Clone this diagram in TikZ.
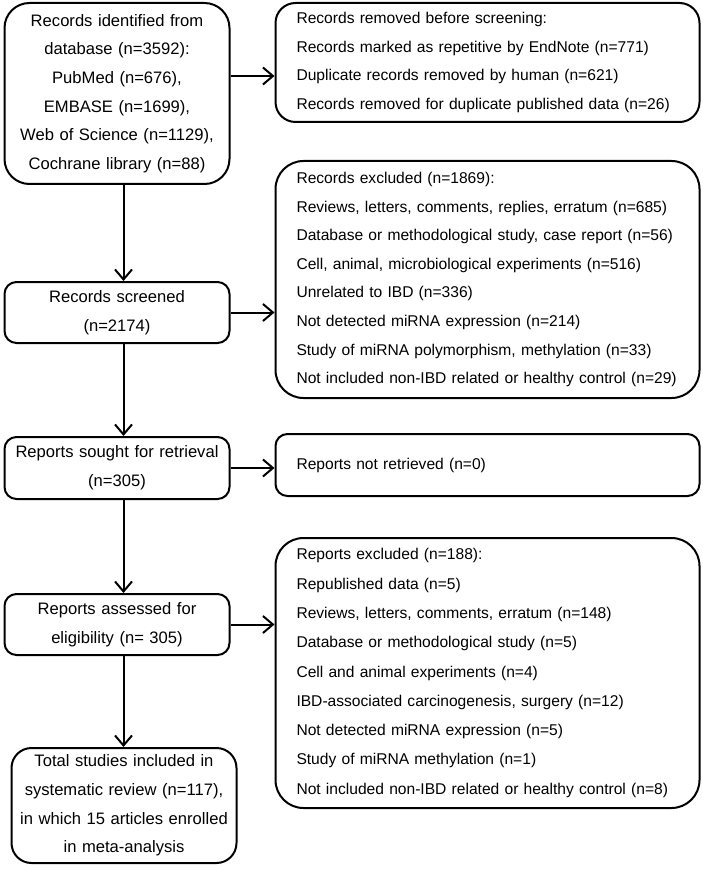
\documentclass[tikz,border=0pt]{standalone}
\usepackage{fontspec}
\setmainfont{Liberation Sans}
\usetikzlibrary{positioning, arrows.meta}

\begin{document}
\begin{tikzpicture}[font=\fontsize{16.6}{28.6}\selectfont]
	\tikzstyle{stage} = [rectangle, rounded corners=12pt, draw=black, line width=2pt, text width=220pt, inner xsep=2.5pt, inner ysep=0pt, align=center]
	\tikzstyle{reason} = [rectangle, rounded corners=20pt, draw=black, line width=2pt, text width=382pt, inner xsep=21pt, inner ysep=0pt, align=left, font=\fontsize{15.6}{28.6}\selectfont]
	\tikzstyle{arrow} = [line width=2pt, -{Straight Barb[length=10pt, width=17pt]}]
	\useasboundingbox (0,0) rectangle (702pt,-874pt);
	% left column
	\node (identified) [stage, rounded corners=25pt, minimum height=181pt] at (117pt,-93.5pt) {Records identified from\\ database (n=3592):\\ PubMed (n=676),\\ EMBASE (n=1699),\\ Web of Science (n=1129),\\ Cochrane library (n=88)};
	\node (screened) [stage, minimum height=61pt, below=96pt of identified] {Records screened\\ (n=2174)};
	\node (sought) [stage, minimum height=62pt, below=92pt of screened] {Reports sought for retrieval\\ (n=305)};
	\node (assessed) [stage, minimum height=61pt, below=93pt of sought] {Reports assessed for\\ eligibility (n= 305)};
	\node (included) [stage, rounded corners=20pt, minimum height=115pt, below=91pt of assessed, xshift=7pt] {Total studies included in\\ systematic review (n=117),\\ in which 15 articles enrolled\\ in meta-analysis};
	% right column
	\node (removed) [reason, minimum height=119pt, right=44pt of identified.north east, anchor=north west] {Records removed before screening:\\ Records marked as repetitive by EndNote (n=771)\\ Duplicate records removed by human (n=621)\\ Records removed for duplicate published data (n=26)};
	\node (excludedRecords) [reason, rounded corners=28pt, minimum height=237pt, below=37pt of removed] {Records excluded (n=1869):\\ Reviews, letters, comments, replies, erratum (n=685)\\ Database or methodological study, case report (n=56)\\ Cell, animal, microbiological experiments (n=516)\\ Unrelated to IBD (n=336)\\ Not detected miRNA expression (n=214)\\ Study of miRNA polymorphism, methylation (n=33)\\ Not included non-IBD related or healthy control (n=29)};
	\node (notRetrieved) [reason, rounded corners=12pt, minimum height=62pt, below=34pt of excludedRecords] {Reports not retrieved (n=0)};
	\node (excludedReports) [reason, rounded corners=28pt, minimum height=270pt, below=40pt of notRetrieved, font=\fontsize{15.6}{29.3}\selectfont] {Reports excluded (n=188):\\ Republished data (n=5)\\ Reviews, letters, comments, erratum (n=148)\\ Database or methodological study (n=5)\\ Cell and animal experiments (n=4)\\ IBD-associated carcinogenesis, surgery (n=12)\\ Not detected miRNA expression (n=5)\\ Study of miRNA methylation (n=1)\\ Not included non-IBD related or healthy control (n=8)};
	% connectors
	\coordinate (spine) at ([xshift=6.5pt]identified.south);
	\coordinate (tap) at ([yshift=17.5pt]identified.east);
	\draw [arrow] (identified.south -| spine) -- (screened.north -| spine);
	\draw [arrow] (screened.south -| spine) -- (sought.north -| spine);
	\draw [arrow] (sought.south -| spine) -- (assessed.north -| spine);
	\draw [arrow] (assessed.south -| spine) -- (included.north -| spine);
	\draw [arrow] (tap) -- (tap -| removed.west);
	\draw [arrow] (screened.east) -- (screened.east -| excludedRecords.west);
	\draw [arrow] (sought.east) -- (sought.east -| notRetrieved.west);
	\draw [arrow] (assessed.east) -- (assessed.east -| excludedReports.west);
\end{tikzpicture}
\end{document}
